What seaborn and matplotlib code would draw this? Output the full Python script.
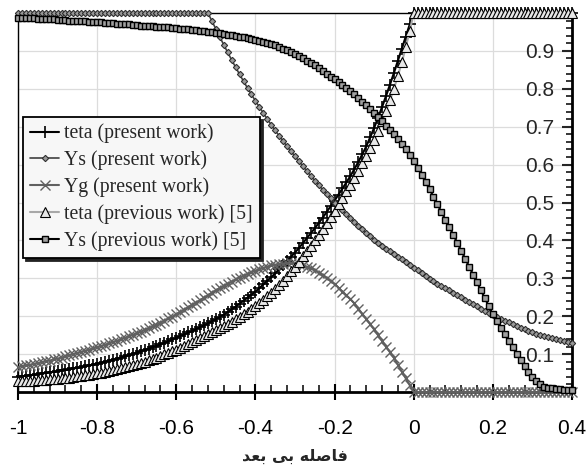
import numpy as np
import pandas as pd
import matplotlib
matplotlib.use("Agg")
import matplotlib.pyplot as plt
from matplotlib.ticker import MultipleLocator, FixedLocator, FixedFormatter
import seaborn as sns

# non-dimensional distance, step 0.01
x = np.round(np.linspace(-1.0, 0.4, 141), 2)

teta_present = [
    0.040, 0.041, 0.043, 0.044, 0.046, 0.047, 0.049, 0.050, 0.052, 0.053,
    0.055, 0.057, 0.058, 0.060, 0.062, 0.064, 0.066, 0.068, 0.070, 0.072,
    0.075, 0.077, 0.080, 0.082, 0.085, 0.088, 0.091, 0.094, 0.097, 0.100,
    0.104, 0.107, 0.111, 0.114, 0.118, 0.122, 0.126, 0.130, 0.134, 0.139,
    0.143, 0.148, 0.152, 0.157, 0.161, 0.166, 0.171, 0.176, 0.181, 0.187,
    0.192, 0.198, 0.204, 0.211, 0.218, 0.225, 0.233, 0.241, 0.249, 0.257,
    0.265, 0.274, 0.284, 0.294, 0.303, 0.313, 0.324, 0.335, 0.346, 0.357,
    0.368, 0.380, 0.393, 0.406, 0.419, 0.432, 0.446, 0.460, 0.475, 0.490,
    0.505, 0.521, 0.537, 0.553, 0.570, 0.588, 0.607, 0.627, 0.648, 0.672,
    0.697, 0.724, 0.752, 0.781, 0.811, 0.842, 0.874, 0.906, 0.938, 0.970,
    1.000] + [1.0] * 40

ys_present = [1.0] * 49 + [
    0.979, 0.958, 0.937, 0.916, 0.896, 0.876, 0.857, 0.838, 0.820, 0.802, 0.785,
    0.768, 0.752, 0.736, 0.720, 0.705, 0.690, 0.676, 0.662, 0.648, 0.635,
    0.622, 0.609, 0.596, 0.583, 0.570, 0.558, 0.546, 0.534, 0.522, 0.511,
    0.500, 0.490, 0.479, 0.469, 0.459, 0.449, 0.439, 0.429, 0.420, 0.411,
    0.402, 0.394, 0.386, 0.378, 0.371, 0.364, 0.357, 0.350, 0.343, 0.336,
    0.328, 0.321, 0.314, 0.306, 0.299, 0.292, 0.286, 0.280, 0.274, 0.268,
    0.262, 0.256, 0.250, 0.244, 0.238, 0.232, 0.226, 0.220, 0.214, 0.208,
    0.202, 0.197, 0.193, 0.188, 0.184, 0.179, 0.175, 0.170, 0.166, 0.161,
    0.157, 0.154, 0.151, 0.149, 0.146, 0.143, 0.141, 0.138, 0.135, 0.133, 0.130]

yg_present = [
    0.066, 0.068, 0.070, 0.072, 0.074, 0.076, 0.078, 0.081, 0.083, 0.086,
    0.088, 0.091, 0.094, 0.097, 0.100, 0.103, 0.106, 0.109, 0.112, 0.115,
    0.118, 0.121, 0.125, 0.128, 0.132, 0.135, 0.139, 0.143, 0.147, 0.151,
    0.155, 0.159, 0.164, 0.168, 0.173, 0.177, 0.183, 0.188, 0.194, 0.199,
    0.205, 0.211, 0.217, 0.224, 0.230, 0.236, 0.242, 0.249, 0.255, 0.262,
    0.268, 0.274, 0.280, 0.286, 0.291, 0.297, 0.302, 0.307, 0.311, 0.316,
    0.320, 0.324, 0.327, 0.331, 0.334, 0.336, 0.338, 0.339, 0.340, 0.340,
    0.339, 0.337, 0.334, 0.330, 0.326, 0.322, 0.315, 0.308, 0.301, 0.293,
    0.285, 0.275, 0.265, 0.255, 0.245, 0.234, 0.220, 0.206, 0.193, 0.179,
    0.165, 0.150, 0.135, 0.120, 0.105, 0.090, 0.072, 0.054, 0.036, 0.018,
    0.000] + [0.0] * 40

teta_previous = [
    0.028, 0.028, 0.029, 0.029, 0.030, 0.031, 0.031, 0.032, 0.033, 0.034,
    0.035, 0.036, 0.037, 0.038, 0.040, 0.041, 0.043, 0.044, 0.046, 0.047,
    0.049, 0.051, 0.053, 0.055, 0.058, 0.060, 0.063, 0.065, 0.068, 0.071,
    0.074, 0.077, 0.080, 0.084, 0.087, 0.091, 0.095, 0.099, 0.103, 0.108,
    0.112, 0.117, 0.122, 0.127, 0.132, 0.137, 0.142, 0.147, 0.152, 0.158,
    0.163, 0.169, 0.175, 0.180, 0.186, 0.192, 0.199, 0.205, 0.212, 0.219,
    0.226, 0.234, 0.243, 0.252, 0.261, 0.271, 0.282, 0.294, 0.306, 0.318,
    0.330, 0.344, 0.358, 0.372, 0.386, 0.400, 0.415, 0.431, 0.446, 0.462,
    0.478, 0.495, 0.512, 0.530, 0.547, 0.565, 0.584, 0.603, 0.623, 0.644,
    0.665, 0.689, 0.714, 0.741, 0.770, 0.800, 0.834, 0.870, 0.910, 0.953,
    1.000] + [1.0] * 40

ys_previous = [
    0.988, 0.987, 0.987, 0.986, 0.986, 0.985, 0.984, 0.984, 0.983, 0.983,
    0.982, 0.981, 0.981, 0.980, 0.980, 0.979, 0.978, 0.978, 0.977, 0.977,
    0.976, 0.975, 0.974, 0.974, 0.973, 0.972, 0.971, 0.970, 0.970, 0.969,
    0.968, 0.967, 0.966, 0.966, 0.965, 0.964, 0.963, 0.962, 0.962, 0.961,
    0.960, 0.959, 0.958, 0.957, 0.955, 0.954, 0.953, 0.952, 0.951, 0.949,
    0.948, 0.946, 0.945, 0.943, 0.942, 0.940, 0.938, 0.936, 0.934, 0.932,
    0.930, 0.927, 0.924, 0.921, 0.918, 0.915, 0.911, 0.906, 0.902, 0.897,
    0.892, 0.886, 0.880, 0.874, 0.868, 0.862, 0.855, 0.847, 0.840, 0.832,
    0.825, 0.817, 0.809, 0.801, 0.793, 0.785, 0.776, 0.766, 0.757, 0.747,
    0.737, 0.726, 0.715, 0.703, 0.692, 0.680, 0.667, 0.654, 0.640, 0.625,
    0.610, 0.592, 0.573, 0.554, 0.535, 0.515, 0.495, 0.475, 0.455, 0.435,
    0.415, 0.394, 0.373, 0.352, 0.331, 0.310, 0.289, 0.268, 0.247, 0.226,
    0.205, 0.187, 0.169, 0.152, 0.135, 0.118, 0.101, 0.085, 0.069, 0.054,
    0.040, 0.028, 0.020, 0.014, 0.011, 0.010, 0.008, 0.007, 0.006, 0.005, 0.004]

labels = ["teta (present work)", "Ys (present work)", "Yg (present work)",
          "teta (previous work) [5]", "Ys (previous work) [5]"]
x_ticks = [-1.0, -0.8, -0.6, -0.4, -0.2, 0.0, 0.2, 0.4]
x_tick_labels = ["-1", "-0.8", "-0.6", "-0.4", "-0.2", "0", "0.2", "0.4"]
y_ticks = [0.1, 0.2, 0.3, 0.4, 0.5, 0.6, 0.7, 0.8, 0.9]
y_tick_labels = ["0.1", "0.2", "0.3", "0.4", "0.5", "0.6", "0.7", "0.8", "0.9"]
# "فاصله بی بعد" in shaped (presentation) forms, visual order
x_label = "\uFEAA\uFECC\uFE91 \uFEF0\uFE91 \uFEEA\uFEE0\uFEBB\uFE8E\uFED3"

series = [teta_present, ys_present, yg_present, teta_previous, ys_previous]
for s in series:
    assert len(s) == len(x)

styles = [
    dict(color="black", marker="+", markersize=8, markeredgewidth=1.2,
         markeredgecolor="black", linewidth=1.5),
    dict(color="#404040", marker="D", markersize=3.2, markerfacecolor="#9a9a9a",
         markeredgecolor="#303030", markeredgewidth=0.8, linewidth=1.2),
    dict(color="#606060", marker="x", markersize=7, markeredgewidth=1.0,
         markeredgecolor="#606060", linewidth=1.5),
    dict(color="#a8a8a8", marker="^", markersize=7.5, markerfacecolor="#e8e8e8",
         markeredgecolor="black", markeredgewidth=0.8, linewidth=1.5),
    dict(color="black", marker="s", markersize=5, markerfacecolor="#a0a0a0",
         markeredgecolor="black", markeredgewidth=1.0, linewidth=1.5),
]

sns.set_style("white")
plt.rcParams["axes.unicode_minus"] = False
plt.rcParams["font.family"] = ["Liberation Sans", "DejaVu Sans"]

fig = plt.figure(figsize=(5.86, 4.68), dpi=100)
ax = fig.add_axes([0.0307, 0.1624, 0.9454, 0.8098])

for vals, lab, st in zip(series, labels, styles):
    df = pd.DataFrame({"x": x, "y": vals})
    sns.lineplot(data=df, x="x", y="y", ax=ax, label=lab, estimator=None,
                 sort=False, clip_on=False, zorder=3, **st)

ax.set_xlim(-1.0, 0.4)
ax.set_ylim(0.0, 1.0)
ax.set_facecolor("white")
ax.grid(True, which="major", color="#dcdcdc", linewidth=0.9)
ax.set_axisbelow(True)

ax.xaxis.set_major_locator(FixedLocator(x_ticks))
ax.xaxis.set_major_formatter(FixedFormatter(x_tick_labels))
ax.xaxis.set_minor_locator(MultipleLocator(0.04))
ax.yaxis.set_major_locator(FixedLocator(y_ticks))
ax.yaxis.set_major_formatter(FixedFormatter(y_tick_labels))
ax.yaxis.set_minor_locator(MultipleLocator(0.02))

ax.tick_params(axis="x", which="major", direction="inout", length=11, width=1.5,
               bottom=True, top=False, labelsize=15, pad=14, colors="black")
ax.tick_params(axis="x", which="minor", direction="in", length=5, width=1.3,
               bottom=True, top=False)
ax.yaxis.set_ticks_position("right")
ax.tick_params(axis="y", which="major", direction="in", length=7, width=1.5,
               left=False, right=True, labelleft=False, labelright=True,
               labelsize=15, pad=-13)
ax.tick_params(axis="y", which="minor", direction="in", length=4, width=1.3,
               left=False, right=True)
for t in ax.get_yticklabels():
    t.set_horizontalalignment("right")

for side in ["top", "left"]:
    ax.spines[side].set_linewidth(1.0)
    ax.spines[side].set_color("black")
for side in ["bottom", "right"]:
    ax.spines[side].set_linewidth(2.0)
    ax.spines[side].set_color("black")

ax.set_ylabel("")
ax.set_xlabel(x_label, fontsize=11.5, fontweight="bold", family="DejaVu Sans",
              labelpad=8)

leg = ax.legend(loc="upper left", bbox_to_anchor=(0.009, 0.726), frameon=True,
                fancybox=False, shadow={"color": "#222222", "alpha": 1.0},
                prop={"family": "Liberation Serif", "size": 14.2},
                handlelength=1.5, handletextpad=0.25, labelspacing=0.36,
                borderpad=0.35, borderaxespad=0.0)
leg.get_frame().set_edgecolor("black")
leg.get_frame().set_linewidth(1.3)
leg.get_frame().set_facecolor("#f7f7f7")
leg.set_zorder(5)

fig.savefig("out.png", dpi=100)
